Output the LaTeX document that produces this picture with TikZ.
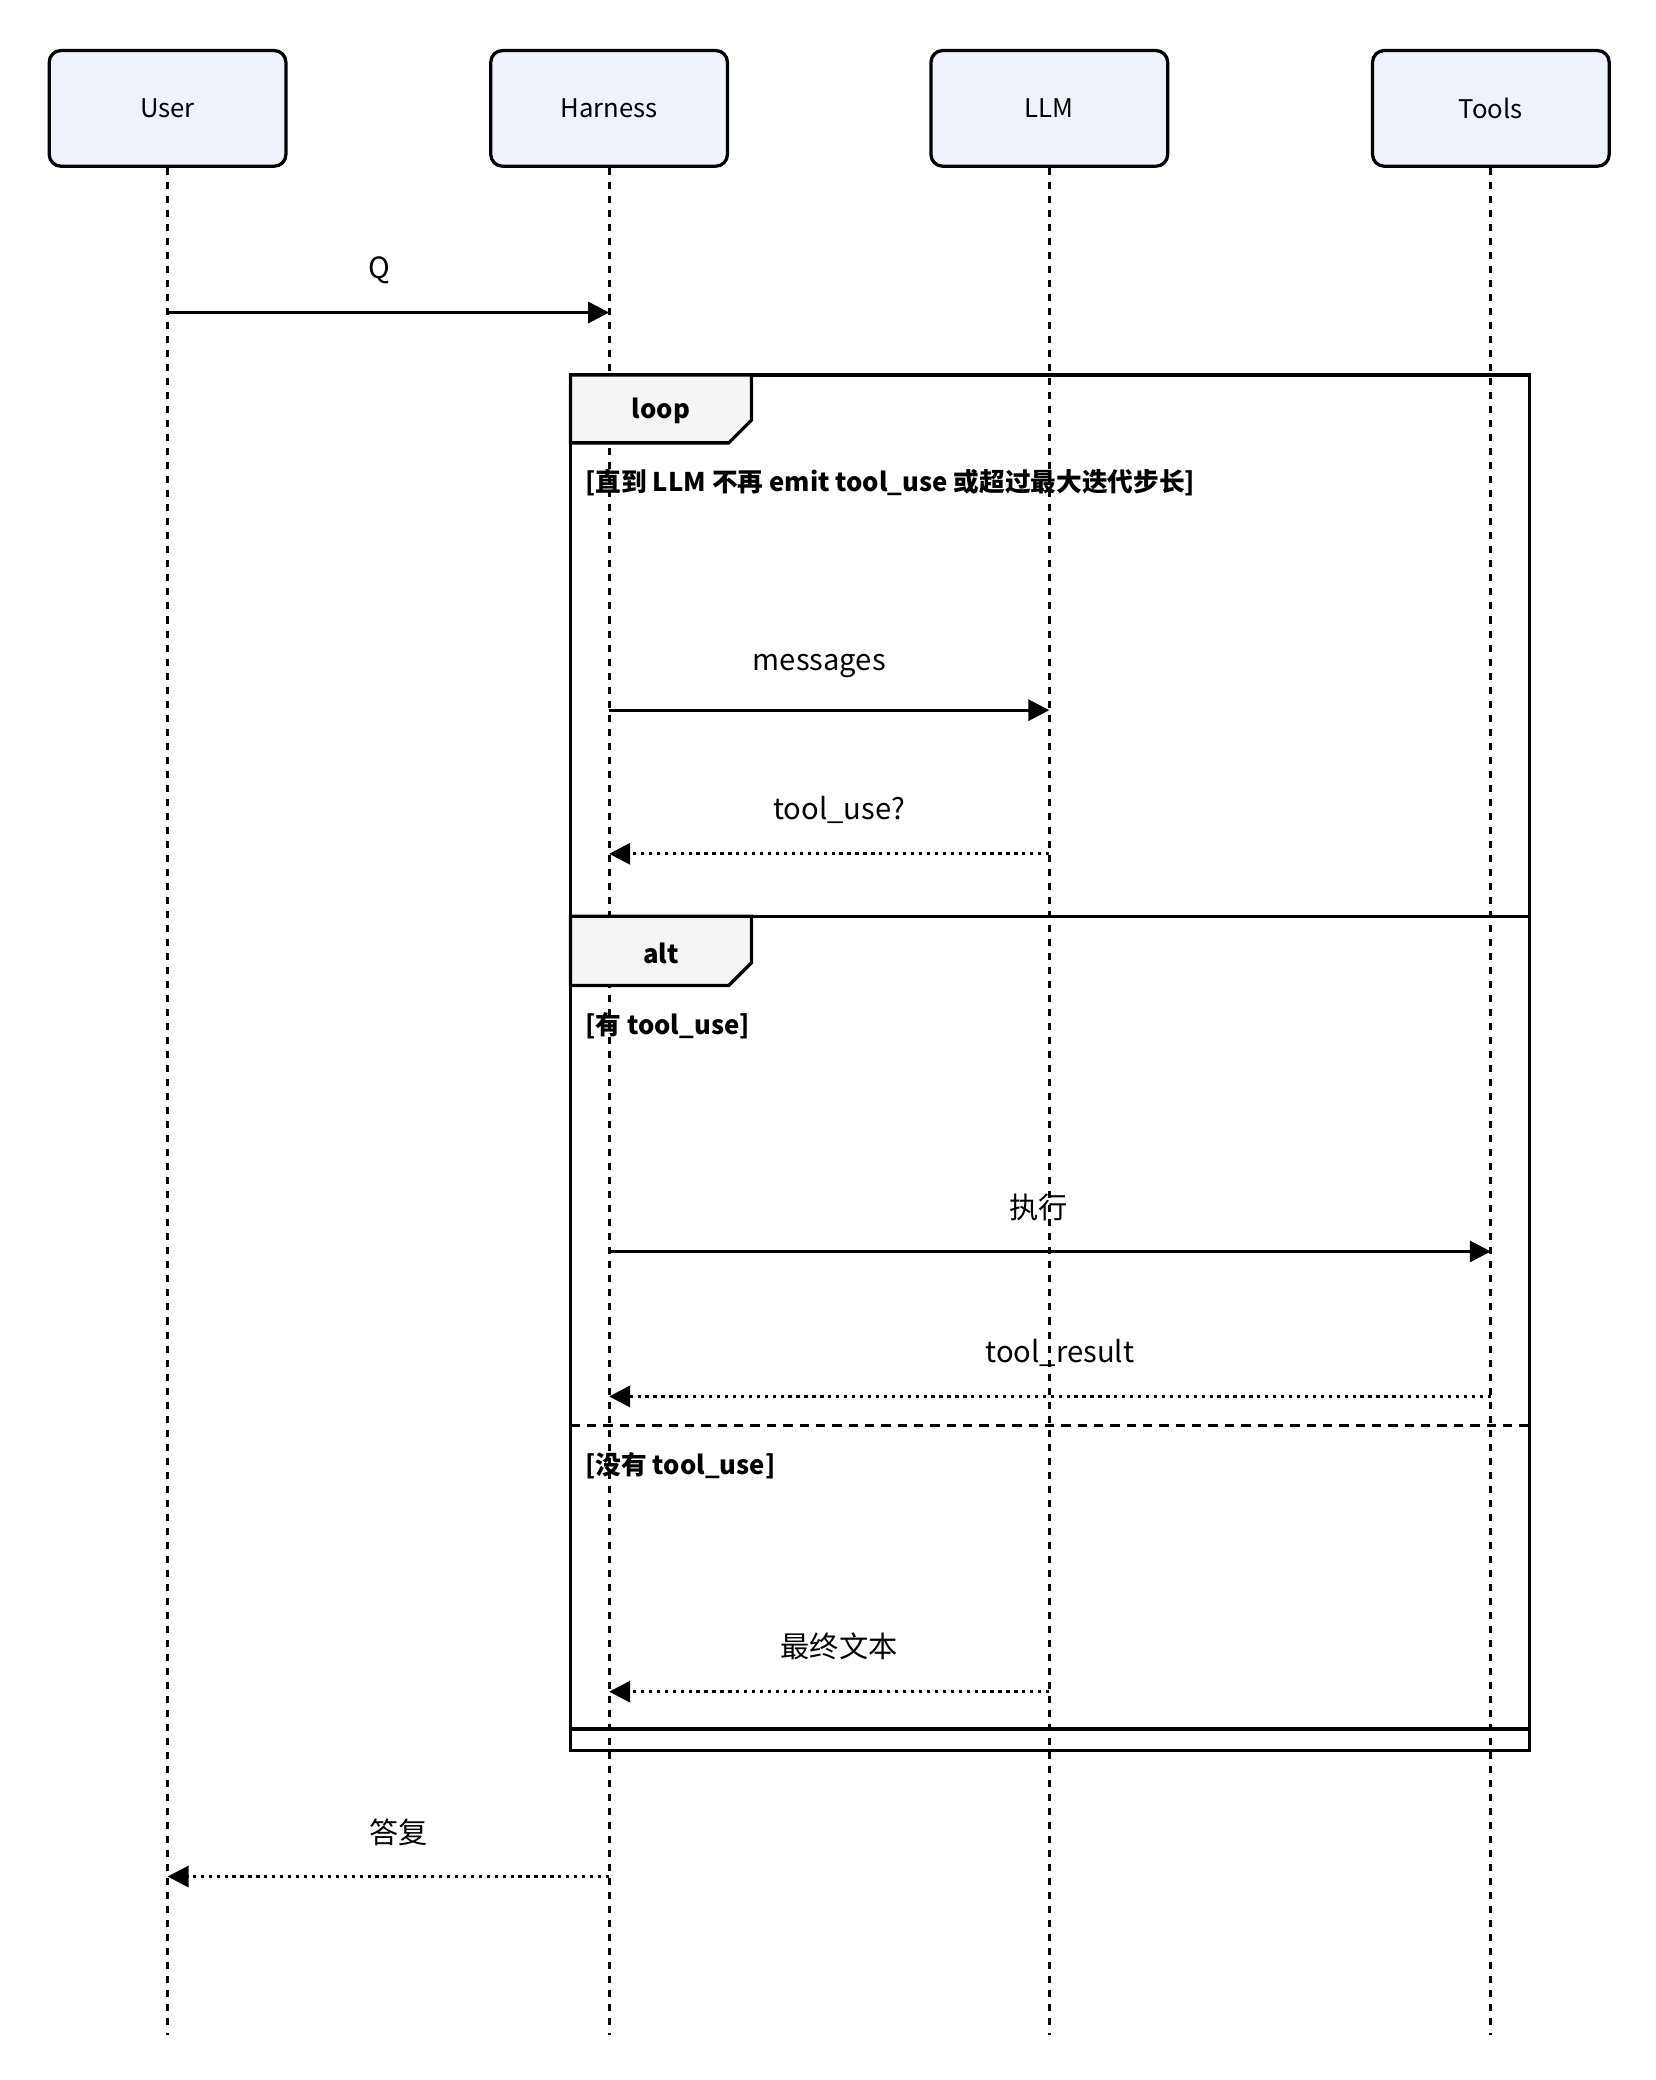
\documentclass[tikz,border=0pt]{standalone}
\usepackage{fontspec}
\setmainfont{Noto Sans CJK SC}
\usetikzlibrary{arrows.meta,positioning}
\definecolor{actor_fill}{RGB}{238, 243, 251}
\definecolor{tab_fill}{RGB}{245, 245, 245}
\tikzstyle{actor}=[rectangle,rounded corners=5pt,fill=actor_fill,draw=black,
  line width=1.4pt,minimum width=3.56cm,minimum height=1.74cm,font=\fontsize{11}{13}\selectfont]
\tikzstyle{life}=[line width=1.2pt,dash pattern=on 3pt off 3pt]
\tikzstyle{msg}=[line width=1.4pt,-{Triangle[length=9pt,width=9pt]}]
\tikzstyle{reply}=[msg,dotted]
\tikzstyle{lbl}=[font=\fontsize{12.5}{15}\selectfont]
\tikzstyle{frame}=[line width=1.4pt]
\tikzstyle{cond}=[anchor=west,font=\bfseries\fontsize{11}{13}\selectfont]
\begin{document}
\begin{tikzpicture}[x=0.02cm,y=-0.02cm]
            \useasboundingbox (0,0) rectangle (1245,1564);
            % actors
            \node [style=actor] (user) at (126, 81.5) {User};
            \node [style=actor] (harness) at (458, 81.5) {Harness};
            \node [style=actor] (llm) at (789, 81.5) {LLM};
            \node [style=actor] (tools) at (1121, 81.5) {Tools};
            \coordinate (userEnd) at (126, 1530);
            \coordinate (harnessEnd) at (458, 1530);
            \coordinate (llmEnd) at (789, 1530);
            \coordinate (toolsEnd) at (1121, 1530);
            \draw [style=life] (user) to (userEnd);
            \draw [style=life] (harness) to (harnessEnd);
            \draw [style=life] (llm) to (llmEnd);
            \draw [style=life] (tools) to (toolsEnd);
            % frames
            \draw [style=frame] (429, 282) rectangle (1150, 1316);
            \draw [style=frame] (429, 689) -- (1150, 689);
            \draw [style=frame] (429, 1300) -- (1150, 1300);
            \draw [style=frame,fill=tab_fill] (429, 282) -- (565, 282) -- (565, 316) -- (548, 333) -- (429, 333) -- cycle;
            \draw [style=frame,fill=tab_fill] (429, 689) -- (565, 689) -- (565, 724) -- (548, 741) -- (429, 741) -- cycle;
            \draw [style=frame,dash pattern=on 4pt off 3pt] (429, 1072) -- (1150, 1072);
            \node [font=\bfseries\fontsize{11}{13}\selectfont] (loopTag) at (497, 309) {loop};
            \node [font=\bfseries\fontsize{11}{13}\selectfont] (altTag) at (497, 717) {alt};
            \node [style=cond] (c1) at (434, 363) {[直到 LLM 不再 emit tool\_use 或超过最大迭代步长]};
            \node [style=cond] (c2) at (434, 771) {[有 tool\_use]};
            \node [style=cond] (c3) at (434, 1102) {[没有 tool\_use]};
            % messages
            \coordinate (m1a) at (126, 235); \coordinate (m1b) at (458, 235);
            \coordinate (m2a) at (458, 534); \coordinate (m2b) at (789, 534);
            \coordinate (m3a) at (789, 642); \coordinate (m3b) at (458, 642);
            \coordinate (m4a) at (458, 941); \coordinate (m4b) at (1121, 941);
            \coordinate (m5a) at (1121, 1050); \coordinate (m5b) at (458, 1050);
            \coordinate (m6a) at (789, 1272); \coordinate (m6b) at (458, 1272);
            \coordinate (m7a) at (458, 1411); \coordinate (m7b) at (126, 1411);
            \draw [style=msg] (m1a) to (m1b);
            \draw [style=msg] (m2a) to (m2b);
            \draw [style=reply] (m3a) to (m3b);
            \draw [style=msg] (m4a) to (m4b);
            \draw [style=reply] (m5a) to (m5b);
            \draw [style=reply] (m6a) to (m6b);
            \draw [style=reply] (m7a) to (m7b);
            \node [style=lbl] (l1) at (285, 203) {Q};
            \node [style=lbl] (l2) at (616, 501) {messages};
            \node [style=lbl] (l3) at (631, 609) {tool\_use?};
            \node [style=lbl] (l4) at (781, 908) {执行};
            \node [style=lbl] (l5) at (797, 1017) {tool\_result};
            \node [style=lbl] (l6) at (631, 1238) {最终文本};
            \node [style=lbl] (l7) at (300, 1378) {答复};
    \end{tikzpicture}
\end{document}
